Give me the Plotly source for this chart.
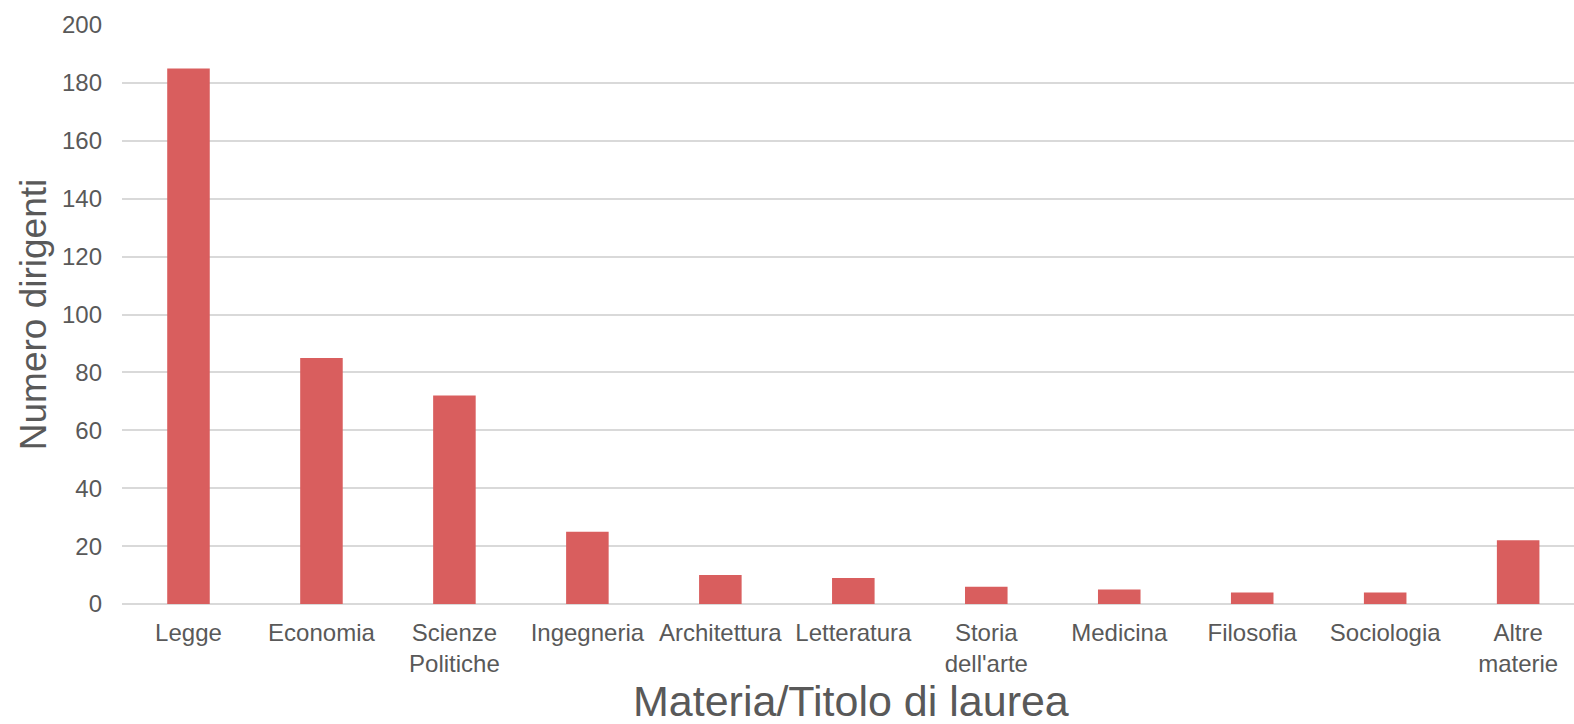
import plotly.graph_objects as go

categories = ["Legge", "Economia", "Scienze<br>Politiche", "Ingegneria", "Architettura",
              "Letteratura", "Storia<br>dell'arte", "Medicina", "Filosofia", "Sociologia",
              "Altre<br>materie"]
values = [185, 85, 72, 25, 10, 9, 6, 5, 4, 4, 22]
y_ticks = [0, 20, 40, 60, 80, 100, 120, 140, 160, 180, 200]
x_title = "Materia/Titolo di laurea"
y_title = "Numero dirigenti"

font_family = "Liberation Sans, Arial, sans-serif"
grey = "#595959"

fig = go.Figure(go.Bar(
    x=list(range(len(categories))),
    y=values,
    width=0.32,
    marker=dict(color="#D95E5E", line=dict(width=0)),
))

fig.update_layout(
    width=1574, height=724,
    margin=dict(l=122, r=0, t=25, b=120, autoexpand=False),
    paper_bgcolor="white", plot_bgcolor="white",
    font=dict(family=font_family, color=grey, size=23),
    showlegend=False,
    xaxis=dict(
        automargin=False,
        tickmode="array",
        tickvals=list(range(len(categories))),
        ticktext=categories,
        range=[-0.5, 10.42],
        showgrid=False, zeroline=False, showline=False,
        ticks="", ticklabelstandoff=12,
        tickfont=dict(size=24, color=grey),
    ),
    yaxis=dict(
        automargin=False,
        range=[0, 200],
        tickmode="array",
        tickvals=y_ticks,
        showgrid=True, gridcolor="#D9D9D9", gridwidth=2,
        zeroline=True, zerolinecolor="#D9D9D9", zerolinewidth=2,
        showline=False, ticks="", ticklabelstandoff=19,
        tickfont=dict(size=24, color=grey),
        title=dict(text=y_title, font=dict(size=37, color=grey), standoff=4),
    ),
    annotations=[dict(
        text=x_title, xref="paper", yref="paper", x=0.502, y=-0.167,
        xanchor="center", yanchor="middle", showarrow=False,
        font=dict(size=43, color=grey, family=font_family),
    )],
)

fig.write_html("out.html")
